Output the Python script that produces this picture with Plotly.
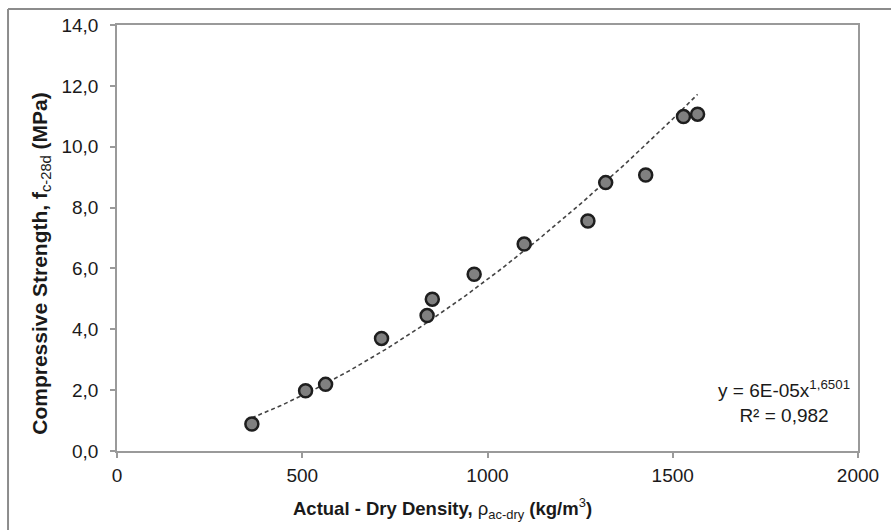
import numpy as np
import plotly.graph_objects as go

# Data
density = [364, 509, 563, 714, 837, 851, 964, 1099, 1271, 1319, 1427, 1529, 1567]
strength = [0.89, 1.98, 2.19, 3.70, 4.45, 4.99, 5.81, 6.80, 7.56, 8.82, 9.07, 10.99, 11.07]

x_tickvals = [0, 500, 1000, 1500, 2000]
x_ticktext = ["0", "500", "1000", "1500", "2000"]
y_tickvals = [0, 2, 4, 6, 8, 10, 12, 14]
y_ticktext = ["0,0", "2,0", "4,0", "6,0", "8,0", "10,0", "12,0", "14,0"]

equation_text = "y = 6E-05x<sup>1,6501</sup><br>R² = 0,982"

# Power-law trendline fitted to the data (log-log least squares)
lx = np.log(np.array(density, dtype=float))
ly = np.log(np.array(strength, dtype=float))
b, a = np.polyfit(lx, ly, 1)
xs = np.linspace(min(density), max(density), 200)
ys = np.exp(a) * xs ** b

FONT = "Liberation Sans, Arial, sans-serif"
TXT = "#1a1a1a"

L, R, T, B = 117, 865, 25, 451
PW, PH = R - L, B - T


def px(xp):
    return (xp - L) / PW


def py(yp):
    return (B - yp) / PH


fig = go.Figure()
fig.add_trace(go.Scatter(
    x=xs, y=ys, mode="lines",
    line=dict(color="#444444", width=1.6, dash="4px,3px"),
    hoverinfo="skip", showlegend=False,
))
fig.add_trace(go.Scatter(
    x=density, y=strength, mode="markers",
    marker=dict(size=13, color="#808080", line=dict(color="#1e1e1e", width=2.5)),
    showlegend=False,
))

fig.update_layout(
    width=891, height=530,
    margin=dict(l=L, r=891 - R, t=T, b=530 - B),
    paper_bgcolor="white", plot_bgcolor="white",
    font=dict(family=FONT, size=19, color=TXT),
    xaxis=dict(
        range=[0, 2000], tickvals=x_tickvals, ticktext=x_ticktext,
        showgrid=False, zeroline=False,
        showline=True, linecolor="#9a9a9a", linewidth=1.5, mirror=True,
        ticks="outside", ticklen=5, tickcolor="#9a9a9a", tickwidth=1.5,
        tickfont=dict(family=FONT, size=19, color=TXT),
        ticklabelstandoff=1,
    ),
    yaxis=dict(
        range=[0, 14], tickvals=y_tickvals, ticktext=y_ticktext,
        showgrid=False, zeroline=False,
        showline=True, linecolor="#9a9a9a", linewidth=1.5, mirror=True,
        ticks="outside", ticklen=5, tickcolor="#9a9a9a", tickwidth=1.5,
        tickfont=dict(family=FONT, size=19, color=TXT),
        ticklabelstandoff=8,
    ),
    annotations=[
        dict(
            text="<b>Actual - Dry Density, </b>ρ<sub>ac-dry</sub><b> (kg/m</b><sup>3</sup><b>)</b>",
            xref="paper", yref="paper",
            x=px(446), y=py(508),
            xanchor="center", yanchor="middle", showarrow=False,
            font=dict(family=FONT, size=18.5, color=TXT),
        ),
        dict(
            text="<b>Compressive Strength, f</b><sub>c-28d</sub><b> (MPa)</b>",
            xref="paper", yref="paper",
            x=px(40), y=py(264),
            xanchor="center", yanchor="middle", textangle=-90, showarrow=False,
            font=dict(family=FONT, size=21, color=TXT),
        ),
        dict(
            text=equation_text,
            xref="paper", yref="paper",
            x=px(790), y=py(401),
            xanchor="center", yanchor="middle", showarrow=False, align="center",
            font=dict(family=FONT, size=19, color=TXT),
        ),
    ],
    shapes=[
        dict(type="line", xref="paper", yref="paper",
             x0=px(7), x1=2.0, y0=py(9), y1=py(9),
             line=dict(color="#8c8c8c", width=2)),
        dict(type="line", xref="paper", yref="paper",
             x0=px(7), x1=px(7), y0=py(9), y1=-2.0,
             line=dict(color="#8c8c8c", width=2)),
    ],
)

fig.write_html("out.html")
